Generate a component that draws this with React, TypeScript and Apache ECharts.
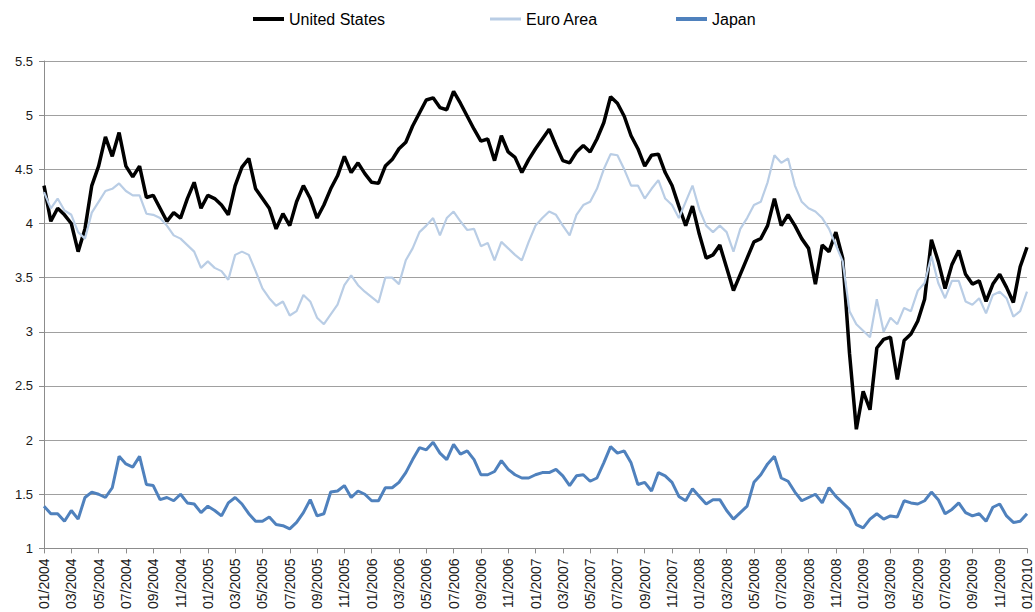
import React, { useEffect, useRef } from "react";
import * as echarts from "echarts";

// Half-month samples from 01/2004 (index 0) to 01/2010 (index 144)
const START_YEAR = 2004;
const STEP_MONTHS = 0.5;

const unitedStates = [
  4.35, 4.02, 4.14, 4.08, 4.0, 3.74, 3.95, 4.35, 4.53, 4.8, 4.62, 4.84, 4.53, 4.43, 4.53, 4.24, 4.26, 4.14, 4.02, 4.1, 4.05, 4.23, 4.38, 4.14,
  4.26, 4.23, 4.17, 4.08, 4.35, 4.52, 4.6, 4.32, 4.23, 4.14, 3.95, 4.09, 3.98, 4.2, 4.35, 4.23, 4.05, 4.17, 4.32, 4.44, 4.62, 4.47, 4.56, 4.46,
  4.38, 4.37, 4.53, 4.59, 4.69, 4.75, 4.9, 5.02, 5.14, 5.16, 5.07, 5.05, 5.22, 5.11, 4.99, 4.87, 4.76, 4.78, 4.58, 4.81, 4.66, 4.61, 4.47, 4.59,
  4.69, 4.78, 4.87, 4.72, 4.58, 4.56, 4.66, 4.72, 4.66, 4.78, 4.93, 5.17, 5.11, 4.99, 4.81, 4.69, 4.53, 4.63, 4.64, 4.47, 4.35, 4.16, 3.98, 4.16,
  3.9, 3.68, 3.71, 3.8, 3.59, 3.38, 3.53, 3.68, 3.83, 3.86, 3.98, 4.23, 3.98, 4.08, 3.98, 3.86, 3.77, 3.44, 3.8, 3.74, 3.92, 3.68, 2.8, 2.1,
  2.45, 2.28, 2.85, 2.93, 2.95, 2.56, 2.92, 2.98, 3.1, 3.3, 3.85, 3.65, 3.4, 3.62, 3.75, 3.53, 3.44, 3.47, 3.28, 3.44, 3.53, 3.41, 3.27, 3.6,
  3.78,
];

const euroArea = [
  4.29, 4.14, 4.23, 4.12, 4.08, 3.92, 3.86, 4.1, 4.2, 4.3, 4.32, 4.37, 4.3, 4.26, 4.26, 4.09, 4.08, 4.05, 3.98, 3.89, 3.86, 3.8, 3.74, 3.59,
  3.65, 3.59, 3.56, 3.48, 3.71, 3.74, 3.71, 3.56, 3.4, 3.31, 3.24, 3.28, 3.15, 3.19, 3.34, 3.28, 3.13, 3.07, 3.16, 3.25, 3.43, 3.52, 3.43, 3.37,
  3.32, 3.27, 3.5, 3.5, 3.44, 3.66, 3.77, 3.92, 3.98, 4.05, 3.89, 4.05, 4.11, 4.02, 3.94, 3.95, 3.79, 3.82, 3.66, 3.83, 3.77, 3.71, 3.66, 3.83,
  3.98, 4.05, 4.11, 4.08, 3.98, 3.89, 4.08, 4.17, 4.2, 4.32, 4.5, 4.64, 4.63, 4.5, 4.35, 4.35, 4.23, 4.32, 4.4, 4.23, 4.17, 4.05, 4.2, 4.35,
  4.13, 3.98, 3.92, 3.98, 3.92, 3.74, 3.95, 4.05, 4.17, 4.2, 4.38, 4.63, 4.56, 4.6, 4.35, 4.2, 4.14, 4.11, 4.05, 3.95, 3.8, 3.65, 3.19, 3.07,
  3.01, 2.95, 3.3, 3.0, 3.13, 3.07, 3.22, 3.19, 3.38, 3.45, 3.7, 3.45, 3.31, 3.47, 3.47, 3.28, 3.25, 3.31, 3.17, 3.34, 3.37, 3.31, 3.14, 3.19,
  3.37,
];

const japan = [
  1.39, 1.32, 1.32, 1.25, 1.35, 1.27, 1.47, 1.52, 1.5, 1.47, 1.56, 1.85, 1.78, 1.75, 1.85, 1.59, 1.58, 1.45, 1.47, 1.44, 1.5, 1.42, 1.41, 1.33,
  1.39, 1.35, 1.3, 1.42, 1.47, 1.41, 1.32, 1.25, 1.25, 1.29, 1.22, 1.21, 1.18, 1.24, 1.33, 1.45, 1.3, 1.32, 1.52, 1.53, 1.58, 1.47, 1.53, 1.5,
  1.44, 1.44, 1.56, 1.56, 1.61, 1.7, 1.82, 1.93, 1.91, 1.98, 1.88, 1.82, 1.96, 1.87, 1.9, 1.82, 1.68, 1.68, 1.71, 1.81, 1.73, 1.68, 1.65, 1.65,
  1.68, 1.7, 1.7, 1.73, 1.67, 1.58, 1.67, 1.68, 1.62, 1.65, 1.79, 1.94, 1.88, 1.9, 1.79, 1.59, 1.61, 1.53, 1.7, 1.67, 1.61, 1.48, 1.44, 1.55,
  1.48, 1.41, 1.45, 1.45, 1.35, 1.27, 1.33, 1.39, 1.61, 1.68, 1.78, 1.85, 1.65, 1.62, 1.52, 1.44, 1.47, 1.5, 1.42, 1.56, 1.48, 1.42, 1.36, 1.22,
  1.19, 1.27, 1.32, 1.27, 1.3, 1.29, 1.44, 1.42, 1.41, 1.44, 1.52, 1.45, 1.32, 1.36, 1.42, 1.33, 1.3, 1.32, 1.25, 1.38, 1.41, 1.3, 1.24, 1.25,
  1.32,
];

const yTicks = { min: 1, max: 5.5, interval: 0.5 };
const xTicks = { min: 0, max: 72, interval: 2 };

const FONT = "'Liberation Sans', Arial, sans-serif";

function toPoints(values: number[]) {
  return values.map((v, i) => [i * STEP_MONTHS, v]);
}

function monthLabel(v: number) {
  const m = Math.round(v);
  const month = (m % 12) + 1;
  const year = START_YEAR + Math.floor(m / 12);
  return (month < 10 ? "0" + month : "" + month) + "/" + year;
}

export default function App() {
  const ref = useRef<HTMLDivElement>(null);

  useEffect(() => {
    document.body.style.margin = "0";
    if (!ref.current) return;
    const chart = echarts.init(ref.current, undefined, { renderer: "svg" });
    const legendText = { fontFamily: FONT, fontSize: 16, color: "#000" };
    const legendBase = {
      top: 11,
      padding: 0,
      icon: "rect",
      itemWidth: 31,
      itemHeight: 4,
      textStyle: legendText,
      selectedMode: false,
    };
    chart.setOption({
      animation: false,
      backgroundColor: "#fff",
      legend: [
        { ...legendBase, left: 253, data: ["United States"] },
        { ...legendBase, left: 490, data: ["Euro Area"], itemHeight: 3 },
        { ...legendBase, left: 676, data: ["Japan"] },
      ],
      grid: { left: 44, right: 8, top: 61, bottom: 59, containLabel: false },
      xAxis: {
        type: "value",
        min: xTicks.min,
        max: xTicks.max,
        interval: xTicks.interval,
        axisLine: { show: true, lineStyle: { color: "#8c8c8c", width: 1 } },
        axisTick: { show: true, length: 5, lineStyle: { color: "#8c8c8c" } },
        splitLine: { show: false },
        axisLabel: {
          rotate: 90,
          margin: 10,
          formatter: monthLabel,
          fontFamily: FONT,
          fontSize: 14,
          color: "#1a1a1a",
          showMinLabel: true,
          showMaxLabel: true,
        },
      },
      yAxis: {
        type: "value",
        min: yTicks.min,
        max: yTicks.max,
        interval: yTicks.interval,
        axisLine: { show: true, lineStyle: { color: "#8c8c8c", width: 1 } },
        axisTick: { show: true, length: 5, lineStyle: { color: "#8c8c8c" } },
        splitLine: { show: true, lineStyle: { color: "#a0a0a0", width: 1 } },
        axisLabel: {
          margin: 11,
          fontFamily: FONT,
          fontSize: 13,
          color: "#1a1a1a",
        },
      },
      series: [
        {
          name: "United States",
          type: "line",
          data: toPoints(unitedStates),
          showSymbol: false,
          symbol: "none",
          color: "#000000",
          lineStyle: { color: "#000000", width: 3.5 },
          z: 2,
        },
        {
          name: "Euro Area",
          type: "line",
          data: toPoints(euroArea),
          showSymbol: false,
          symbol: "none",
          color: "#b9cde5",
          lineStyle: { color: "#b9cde5", width: 2.2 },
          z: 3,
        },
        {
          name: "Japan",
          type: "line",
          data: toPoints(japan),
          showSymbol: false,
          symbol: "none",
          color: "#4f81bd",
          lineStyle: { color: "#4f81bd", width: 3 },
          z: 4,
        },
      ],
    });
    return () => chart.dispose();
  }, []);

  return <div ref={ref} style={{ width: 1035, height: 612 }} />;
}
